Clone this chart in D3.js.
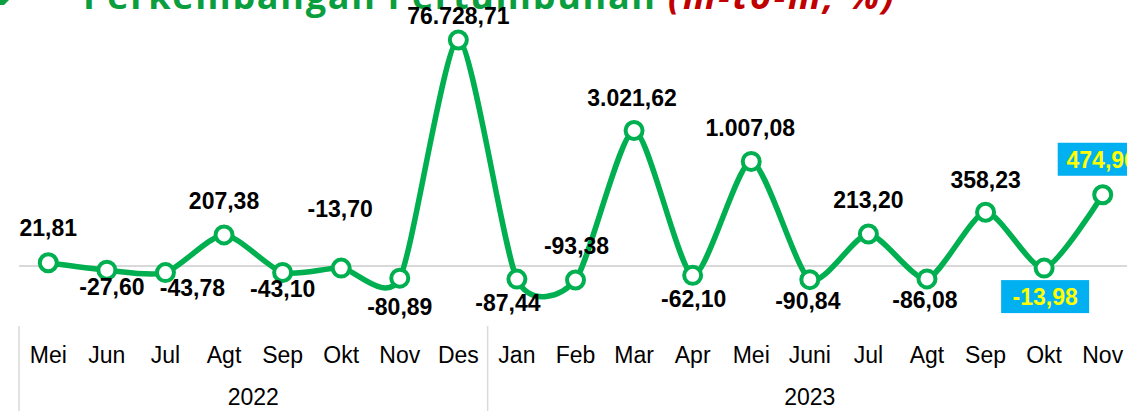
<!DOCTYPE html>
<html>
<head>
<meta charset="utf-8">
<script src="https://cdn.jsdelivr.net/npm/d3@7"></script>
<style>
  body { margin: 0; background: #fff; overflow: hidden; }
  svg { display: block; }
</style>
</head>
<body>
<div id="chart"></div>
<script>
var w = 1127, h = 411;

// data
var months = ["Mei", "Jun", "Jul", "Agt", "Sep", "Okt", "Nov", "Des", "Jan", "Feb", "Mar", "Apr", "Mei", "Juni", "Jul", "Agt", "Sep", "Okt", "Nov"];
var years = ["2022", "2023"];
var yearMonths = [8, 11];
var growth = [21.81, -27.60, -43.78, 207.38, -43.10, -13.70, -80.89, 76728.71, -87.44, -93.38, 3021.62, -62.10, 1007.08, -90.84, 213.20, -86.08, 358.23, -13.98, 474.96];
var highlighted = [17, 18];

// label offsets from the marker (layout only)
var labelDx = [0, 5, 27, 0, 0, -1, 0, 0, -9, 1, -2, 1, -1, -2, 0, -2, 0, 1, -1];
var labelDy = [-35, 17, 15, -34, 16, -59, 29, -24, 24, -34, -33, 23, -34, 21, -34, 21, -33, 29, -35];

var locale = d3.formatLocale({decimal: ",", thousands: ".", grouping: [3], currency: ["", ""], minus: "-"});
var fmt = locale.format(",.2f");

var svg = d3.select("#chart").append("svg").attr("width", w).attr("height", h);

// title (cut at the top in the original)
svg.append("path").attr("d", "M0,0 L9,0 L4,5 L0,5 Z").attr("fill", "#0a9e3e");
var title = svg.append("text").attr("y", 9).attr("font-family", "Open Sans, sans-serif")
  .attr("font-weight", "bold").attr("font-size", 36);
title.append("tspan").attr("x", 83).attr("fill", "#0a9e3e").attr("textLength", 572).text("Perkembangan Pertumbuhan");
title.append("tspan").attr("x", 668).attr("fill", "#c00000").attr("font-style", "italic").attr("textLength", 226).text("(m-to-m, %)");

var x = d3.scaleBand().domain(d3.range(months.length)).range([19, 1132]);
var cx = function(i) { return x(i) + x.bandwidth() / 2; };

// broken scale: linear near zero, compressed for the big spikes
var y = d3.scaleLinear().domain([-100, 500, 1000, 3000, 80000]).range([281, 191, 161.5, 130.5, 36]);

// zero line
svg.append("line").attr("x1", 19).attr("x2", w).attr("y1", y(0)).attr("y2", y(0))
  .attr("stroke", "#d9d9d9").attr("stroke-width", 2);

// category axis: months and years
var axis = svg.append("g");
axis.selectAll(".month").data(months).enter().append("text")
  .attr("class", "month")
  .attr("x", function(d, i) { return cx(i); })
  .attr("y", 363)
  .attr("text-anchor", "middle")
  .attr("font-family", "Liberation Sans, Arial, sans-serif")
  .attr("font-size", 23)
  .attr("fill", "#000")
  .text(function(d) { return d; });

var start = 0, bounds = [0];
yearMonths.forEach(function(n) { start += n; bounds.push(start); });
axis.selectAll(".sep").data(bounds).enter().append("line")
  .attr("x1", function(d) { return x(0) + d * x.bandwidth(); })
  .attr("x2", function(d) { return x(0) + d * x.bandwidth(); })
  .attr("y1", 326).attr("y2", h)
  .attr("stroke", "#d9d9d9").attr("stroke-width", 1.5);
axis.selectAll(".year").data(years).enter().append("text")
  .attr("x", function(d, i) { return x(0) + (bounds[i] + bounds[i + 1]) / 2 * x.bandwidth(); })
  .attr("y", 405)
  .attr("text-anchor", "middle")
  .attr("font-family", "Liberation Sans, Arial, sans-serif")
  .attr("font-size", 23)
  .attr("fill", "#000")
  .text(function(d) { return d; });

// smoothed line
var line = d3.line()
  .x(function(d, i) { return cx(i); })
  .y(function(d) { return y(d); })
  .curve(d3.curveCardinal.tension(0.3));

svg.append("path").datum(growth).attr("d", line)
  .attr("fill", "none").attr("stroke", "#00b050").attr("stroke-width", 5.5).attr("stroke-linejoin", "round");

svg.selectAll(".dot").data(growth).enter().append("circle")
  .attr("cx", function(d, i) { return cx(i); })
  .attr("cy", function(d) { return y(d); })
  .attr("r", 8.5)
  .attr("fill", "#fff").attr("stroke", "#00b050").attr("stroke-width", 4);

// data labels
var labels = svg.selectAll(".lbl").data(growth).enter().append("g")
  .attr("transform", function(d, i) { return "translate(" + (cx(i) + labelDx[i]) + "," + (y(d) + labelDy[i]) + ")"; });

labels.filter(function(d, i) { return highlighted.indexOf(i) >= 0; })
  .append("rect")
  .attr("x", function(d) { return -(fmt(d).length * 12 + 16) / 2; })
  .attr("y", -17)
  .attr("width", function(d) { return fmt(d).length * 12 + 16; })
  .attr("height", 33)
  .attr("fill", "#00b0f0");

labels.append("text")
  .attr("text-anchor", "middle")
  .attr("dy", "0.36em")
  .attr("font-family", "Liberation Sans, Arial, sans-serif")
  .attr("font-weight", "bold")
  .attr("font-size", 23)
  .attr("fill", function(d, i) { return highlighted.indexOf(i) >= 0 ? "#ffff00" : "#000"; })
  .text(function(d) { return fmt(d); });
</script>
</body>
</html>
